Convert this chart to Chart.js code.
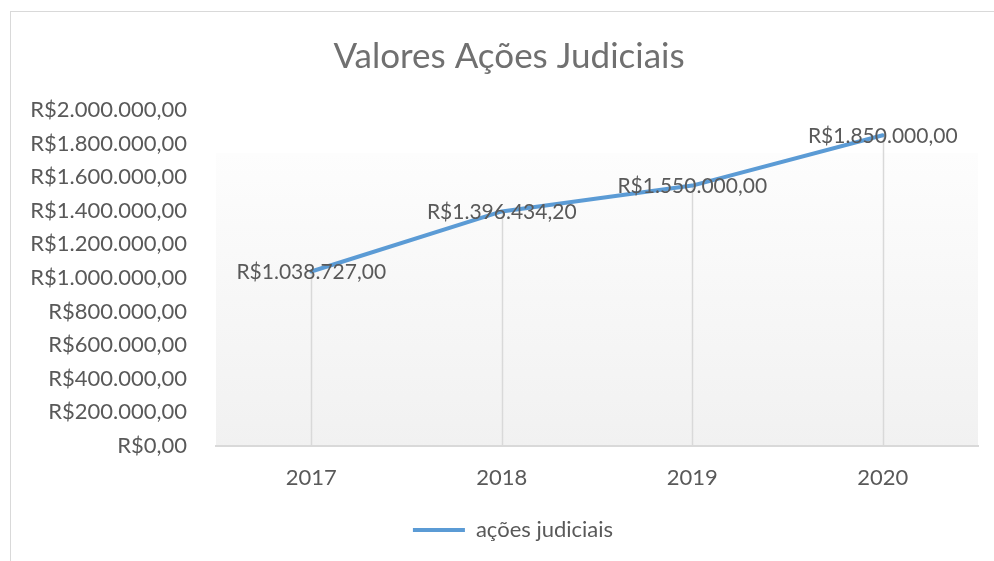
<!DOCTYPE html>
<html>
<head>
<meta charset="utf-8">
<script src="https://cdn.jsdelivr.net/npm/chart.js@4.4.0/dist/chart.umd.min.js"></script>
<style>
  body { margin: 0; background: #fff; }
  canvas { display: block; }
</style>
</head>
<body>
<canvas id="acoesChart" width="994" height="561"></canvas>
<script>
const anos = ['2017', '2018', '2019', '2020'];
const valores = [1038727.00, 1396434.20, 1550000.00, 1850000.00];
const eixoMin = 0;
const eixoMax = 2000000;
const eixoPasso = 200000;

const ctx = document.getElementById('acoesChart').getContext('2d');
const fonte = 'Lato, "Open Sans", sans-serif';

// formato R$1.234.567,89
function formatReal(v) {
    const partes = Number(v).toFixed(2).split('.');
    return 'R$' + partes[0].replace(/\B(?=(\d{3})+(?!\d))/g, '.') + ',' + partes[1];
}

// moldura, fundo com degradê, linhas de projeção e rótulos
const excelLook = {
    id: 'excelLook',
    afterLayout(chart) {
        // o Excel centra título e legenda na moldura inteira
        chart.titleBlock.left += 20;
        chart.titleBlock.right += 20;
        chart.legend.left += 24;
        chart.legend.right += 24;
    },
    beforeDraw(chart) {
        const c = chart.ctx;
        const a = chart.chartArea;
        c.save();
        c.strokeStyle = '#d9d9d9';
        c.lineWidth = 1;
        c.strokeRect(10.5, 11.5, 1010, 600);
        const topo = a.top + 43;
        const grad = c.createLinearGradient(0, topo, 0, a.bottom);
        grad.addColorStop(0, '#fdfdfd');
        grad.addColorStop(1, '#f1f1f1');
        c.fillStyle = grad;
        c.fillRect(a.left, topo, a.right - a.left, a.bottom - topo);
        c.restore();
    },
    beforeDatasetsDraw(chart) {
        const c = chart.ctx;
        const meta = chart.getDatasetMeta(0);
        c.save();
        c.strokeStyle = '#d9d9d9';
        c.lineWidth = 1.5;
        meta.data.forEach(p => {
            c.beginPath();
            c.moveTo(Math.round(p.x) + 0.5, p.y);
            c.lineTo(Math.round(p.x) + 0.5, chart.chartArea.bottom);
            c.stroke();
        });
        c.restore();
    },
    afterDatasetsDraw(chart) {
        const c = chart.ctx;
        const meta = chart.getDatasetMeta(0);
        c.save();
        c.font = '21px ' + fonte;
        c.fillStyle = '#595959';
        c.textAlign = 'center';
        c.textBaseline = 'middle';
        meta.data.forEach((p, i) => {
            c.fillText(formatReal(valores[i]), p.x, p.y + 1);
        });
        c.restore();
    }
};

new Chart(ctx, {
    type: 'line',
    data: {
        labels: anos,
        datasets: [{
            label: 'ações judiciais',
            data: valores,
            borderColor: '#5b9bd5',
            backgroundColor: '#5b9bd5',
            borderWidth: 4,
            borderCapStyle: 'round',
            borderJoinStyle: 'round',
            pointRadius: 0,
            tension: 0,
            fill: false
        }]
    },
    options: {
        responsive: false,
        animation: false,
        layout: {
            padding: { left: 0, right: 16, top: 0, bottom: 10 }
        },
        plugins: {
            title: {
                display: true,
                text: 'Valores Ações Judiciais',
                color: '#707070',
                font: { family: fonte, size: 35, weight: 'normal', lineHeight: 1.2 },
                padding: { top: 36, bottom: 32 }
            },
            legend: {
                position: 'bottom',
                labels: {
                    usePointStyle: true,
                    pointStyle: 'line',
                    pointStyleWidth: 52,
                    color: '#595959',
                    font: { family: fonte, size: 22 },
                    padding: 8.6
                }
            },
            tooltip: { enabled: false }
        },
        scales: {
            x: {
                offset: true,
                grid: { display: false, drawTicks: false },
                border: { display: true, color: '#d9d9d9', width: 2 },
                ticks: {
                    color: '#595959',
                    font: { family: fonte, size: 22 },
                    padding: 19
                }
            },
            y: {
                min: eixoMin,
                max: eixoMax,
                afterFit(scale) { scale.width = 216; },
                grid: { display: false, drawTicks: false },
                border: { display: false },
                ticks: {
                    stepSize: eixoPasso,
                    color: '#595959',
                    font: { family: fonte, size: 22 },
                    padding: 29,
                    callback: value => formatReal(value)
                }
            }
        }
    },
    plugins: [excelLook]
});
</script>
</body>
</html>
